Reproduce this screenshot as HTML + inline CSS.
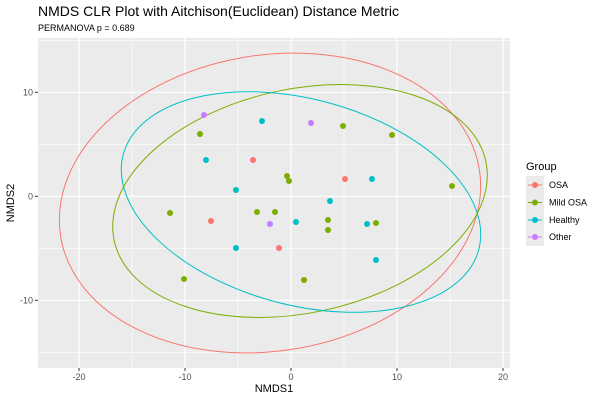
<!DOCTYPE html>
<html><head><style>body{margin:0;background:#fff}</style></head><body>
<svg width="600" height="400" xmlns="http://www.w3.org/2000/svg" font-family="Liberation Sans, DejaVu Sans, sans-serif">
<rect width="600" height="400" fill="#fff"/>
<text x="38" y="16" font-size="14" fill="#000">NMDS CLR Plot with Aitchison(Euclidean) Distance Metric</text>
<text x="38" y="31" font-size="9" fill="#000">PERMANOVA p = 0.689</text>
<defs><clipPath id="c"><rect x="38" y="38" width="472" height="330"/></clipPath></defs>
<rect x="38" y="38" width="472" height="330" fill="#ebebeb"/>
<g stroke="#fff" stroke-width="0.6">
<line x1="38" x2="510" y1="144.3" y2="144.3"/><line x1="38" x2="510" y1="248.3" y2="248.3"/><line x1="38" x2="510" y1="352.3" y2="352.3"/><line x1="38" x2="510" y1="40.3" y2="40.3"/>
<line y1="38" y2="368" x1="132" x2="132"/><line y1="38" y2="368" x1="238" x2="238"/><line y1="38" y2="368" x1="344" x2="344"/><line y1="38" y2="368" x1="450" x2="450"/>
</g>
<g stroke="#fff" stroke-width="1.2">
<line x1="38" x2="510" y1="92.3" y2="92.3"/><line x1="38" x2="510" y1="196.3" y2="196.3"/><line x1="38" x2="510" y1="300.3" y2="300.3"/>
<line y1="38" y2="368" x1="79" x2="79"/><line y1="38" y2="368" x1="185" x2="185"/><line y1="38" y2="368" x1="291" x2="291"/><line y1="38" y2="368" x1="397" x2="397"/><line y1="38" y2="368" x1="503" x2="503"/>
</g>
<g clip-path="url(#c)" fill="none" stroke-width="1">
<ellipse cx="270" cy="203" rx="212" ry="148" transform="rotate(-9 270 203)" stroke="#F8766D"/>
<ellipse cx="300" cy="201" rx="190" ry="112" transform="rotate(-12 300 201)" stroke="#7CAE00"/>
<ellipse cx="301" cy="202" rx="184" ry="103" transform="rotate(15 301 202)" stroke="#00BFC4"/>
</g>
<g>
<circle cx="204" cy="115" r="3" fill="#C77CFF"/><circle cx="262" cy="121" r="3" fill="#00BFC4"/><circle cx="200" cy="134" r="3" fill="#7CAE00"/><circle cx="206" cy="160" r="3" fill="#00BFC4"/><circle cx="253" cy="160" r="3" fill="#F8766D"/><circle cx="287" cy="176" r="3" fill="#7CAE00"/><circle cx="289" cy="181" r="3" fill="#7CAE00"/><circle cx="236" cy="190" r="3" fill="#00BFC4"/><circle cx="170" cy="213" r="3" fill="#7CAE00"/><circle cx="257" cy="212" r="3" fill="#7CAE00"/><circle cx="275" cy="212" r="3" fill="#7CAE00"/><circle cx="211" cy="221" r="3" fill="#F8766D"/><circle cx="270" cy="224" r="3" fill="#C77CFF"/><circle cx="296" cy="222" r="3" fill="#00BFC4"/><circle cx="236" cy="248" r="3" fill="#00BFC4"/><circle cx="279" cy="248" r="3" fill="#F8766D"/><circle cx="184" cy="279" r="3" fill="#7CAE00"/>
<circle cx="311" cy="123" r="3" fill="#C77CFF"/><circle cx="343" cy="126" r="3" fill="#7CAE00"/><circle cx="392" cy="135" r="3" fill="#7CAE00"/><circle cx="345" cy="179" r="3" fill="#F8766D"/><circle cx="372" cy="179" r="3" fill="#00BFC4"/><circle cx="452" cy="186" r="3" fill="#7CAE00"/><circle cx="330" cy="201" r="3" fill="#00BFC4"/><circle cx="328" cy="220" r="3" fill="#7CAE00"/><circle cx="367" cy="224" r="3" fill="#00BFC4"/><circle cx="376" cy="223" r="3" fill="#7CAE00"/><circle cx="328" cy="230" r="3" fill="#7CAE00"/><circle cx="376" cy="260" r="3" fill="#00BFC4"/><circle cx="304" cy="280" r="3" fill="#7CAE00"/>
</g>
<g stroke="#333" stroke-width="1">
<line x1="35" x2="38" y1="92.3" y2="92.3"/><line x1="35" x2="38" y1="196.3" y2="196.3"/><line x1="35" x2="38" y1="300.3" y2="300.3"/>
<line y1="368" y2="371" x1="79" x2="79"/><line y1="368" y2="371" x1="185" x2="185"/><line y1="368" y2="371" x1="291" x2="291"/><line y1="368" y2="371" x1="397" x2="397"/><line y1="368" y2="371" x1="503" x2="503"/>
</g>
<g font-size="9" fill="#4d4d4d">
<text x="33" y="95.5" text-anchor="end">10</text><text x="33" y="199.5" text-anchor="end">0</text><text x="33" y="303.5" text-anchor="end">-10</text>
<text x="79" y="380" text-anchor="middle">-20</text><text x="185" y="380" text-anchor="middle">-10</text><text x="291" y="380" text-anchor="middle">0</text><text x="397" y="380" text-anchor="middle">10</text><text x="503" y="380" text-anchor="middle">20</text>
</g>
<text x="274" y="392" font-size="11" text-anchor="middle">NMDS1</text>
<text transform="translate(14 203) rotate(-90)" font-size="11" text-anchor="middle">NMDS2</text>
<text x="526" y="170" font-size="11">Group</text>
<rect x="526" y="176" width="18" height="70" fill="#ebebeb"/>
<g stroke-width="1">
<line x1="528" x2="542" y1="185" y2="185" stroke="#F8766D"/><circle cx="535" cy="185" r="3" fill="#F8766D"/>
<line x1="528" x2="542" y1="202.5" y2="202.5" stroke="#7CAE00"/><circle cx="535" cy="202.5" r="3" fill="#7CAE00"/>
<line x1="528" x2="542" y1="220" y2="220" stroke="#00BFC4"/><circle cx="535" cy="220" r="3" fill="#00BFC4"/>
<line x1="528" x2="542" y1="237" y2="237" stroke="#C77CFF"/><circle cx="535" cy="237" r="3" fill="#C77CFF"/>
</g>
<g font-size="9" fill="#000">
<text x="549" y="188">OSA</text><text x="549" y="205.5">Mild OSA</text><text x="549" y="223">Healthy</text><text x="549" y="240">Other</text>
</g>
</svg>
</body></html>
